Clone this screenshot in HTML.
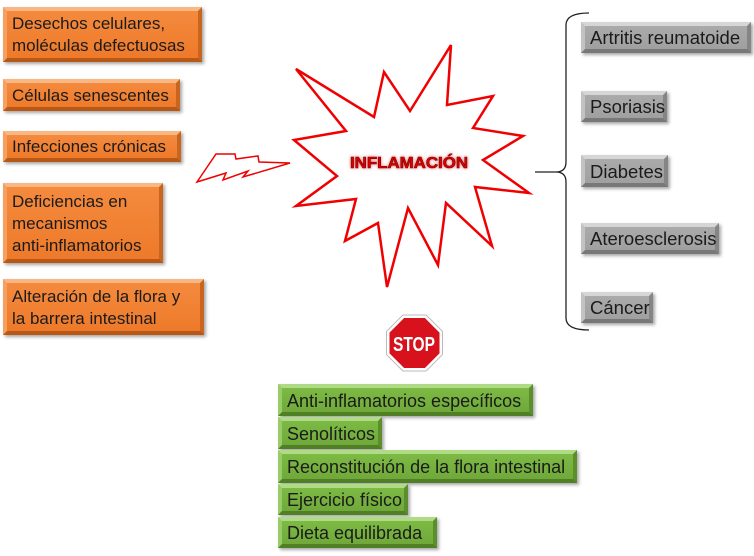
<!DOCTYPE html>
<html><head><meta charset="utf-8"><style>
html,body{margin:0;padding:0;background:#fff;}
body{width:754px;height:556px;position:relative;overflow:hidden;font-family:"Liberation Sans",sans-serif;}
.b{position:absolute;box-sizing:border-box;border-style:solid;border-width:4px;color:#1b1b1b;font-size:17px;line-height:22px;padding:1px 0 0 5px;box-shadow:2px 2px 3px rgba(0,0,0,0.35);white-space:nowrap;display:flex;flex-direction:column;justify-content:center;}
.o{background:linear-gradient(#f48a3e,#ee7a2a);border-top-color:#f9b784;border-left-color:#f6a060;border-right-color:#c9651e;border-bottom-color:#b85816;}
.g{font-size:18.5px;background:linear-gradient(#aaaaaa,#a0a0a0);border-top-color:#d6d6d6;border-left-color:#c2c2c2;border-right-color:#858585;border-bottom-color:#787878;}
.gr{font-size:18px;background:linear-gradient(#7dba44,#70a93a);border-top-color:#b0db86;border-left-color:#98cc68;border-right-color:#5b8f2b;border-bottom-color:#507f25;}
svg{position:absolute;left:0;top:0;}
</style></head><body>
<svg width="754" height="556" viewBox="0 0 754 556">
  <polygon points="296,69 374,117 384,72 410,111 451,45 447,105 493,96 473,128 523,136 483,160 529,193 475,187 492,246 446,203 438,265 408,208 387,287 378,223 345,241 356,199 296,206 337,176 294,140 346,131" fill="#fff" stroke="#f00000" stroke-width="2.5" stroke-linejoin="miter"/>
  <polygon points="197,182 216,154 235,154 236,159 258,156 259,162 290,163 243,177 248,171 223,180 226,173" fill="#fff" stroke="#f00000" stroke-width="1.5"/>
  <path d="M589,13 Q566,13 566,25 L566,162 Q566,172 556,172 Q566,172 566,182 L566,318 Q566,330 589,330 M535,172 L556,172" fill="none" stroke="#222" stroke-width="1.3"/>
  <g transform="translate(414.5,343)">
    <polygon points="-11.6,-28 11.6,-28 28,-11.6 28,11.6 11.6,28 -11.6,28 -28,11.6 -28,-11.6" fill="#fff" stroke="#bbb" stroke-width="1"/>
    <polygon points="-10.4,-25 10.4,-25 25,-10.4 25,10.4 10.4,25 -10.4,25 -25,10.4 -25,-10.4" fill="#d7121d"/>
  </g>
  <text x="414" y="351" text-anchor="middle" font-family="Liberation Sans Narrow, Liberation Sans, sans-serif" font-weight="bold" font-size="20" fill="#fff" textLength="42" lengthAdjust="spacingAndGlyphs">STOP</text>
  <text x="409" y="168" text-anchor="middle" font-family="Liberation Sans, sans-serif" font-weight="bold" font-size="16" fill="#e00000" stroke="#700" stroke-width="0.6" textLength="118" lengthAdjust="spacingAndGlyphs" style="filter:drop-shadow(0 0 1.5px rgba(200,0,0,0.6))">INFLAMACIÓN</text>
</svg>

<div class="b o" style="left:3px;top:7px;width:199px;height:55px;">Desechos celulares,<br>moléculas defectuosas</div>
<div class="b o" style="left:3px;top:79px;width:177px;height:32px;">Células senescentes</div>
<div class="b o" style="left:3px;top:131px;width:178px;height:31px;">Infecciones crónicas</div>
<div class="b o" style="left:3px;top:183px;width:160px;height:80px;">Deficiencias en<br>mecanismos<br>anti-inflamatorios</div>
<div class="b o" style="left:3px;top:279px;width:201px;height:56px;">Alteración de la flora y<br>la barrera intestinal</div>

<div class="b g" style="left:581px;top:22px;width:170px;height:31px;">Artritis reumatoide</div>
<div class="b g" style="left:581px;top:91px;width:86px;height:31px;">Psoriasis</div>
<div class="b g" style="left:581px;top:155px;width:87px;height:32px;">Diabetes</div>
<div class="b g" style="left:581px;top:223px;width:138px;height:31px;">Ateroesclerosis</div>
<div class="b g" style="left:581px;top:292px;width:72px;height:31px;">Cáncer</div>

<div class="b gr" style="left:278px;top:384px;width:255px;height:32px;">Anti-inflamatorios específicos</div>
<div class="b gr" style="left:278px;top:417px;width:104px;height:32px;">Senolíticos</div>
<div class="b gr" style="left:278px;top:450px;width:299px;height:33px;">Reconstitución de la flora intestinal</div>
<div class="b gr" style="left:278px;top:484px;width:130px;height:31px;">Ejercicio físico</div>
<div class="b gr" style="left:278px;top:517px;width:159px;height:31px;">Dieta equilibrada</div>
</body></html>
